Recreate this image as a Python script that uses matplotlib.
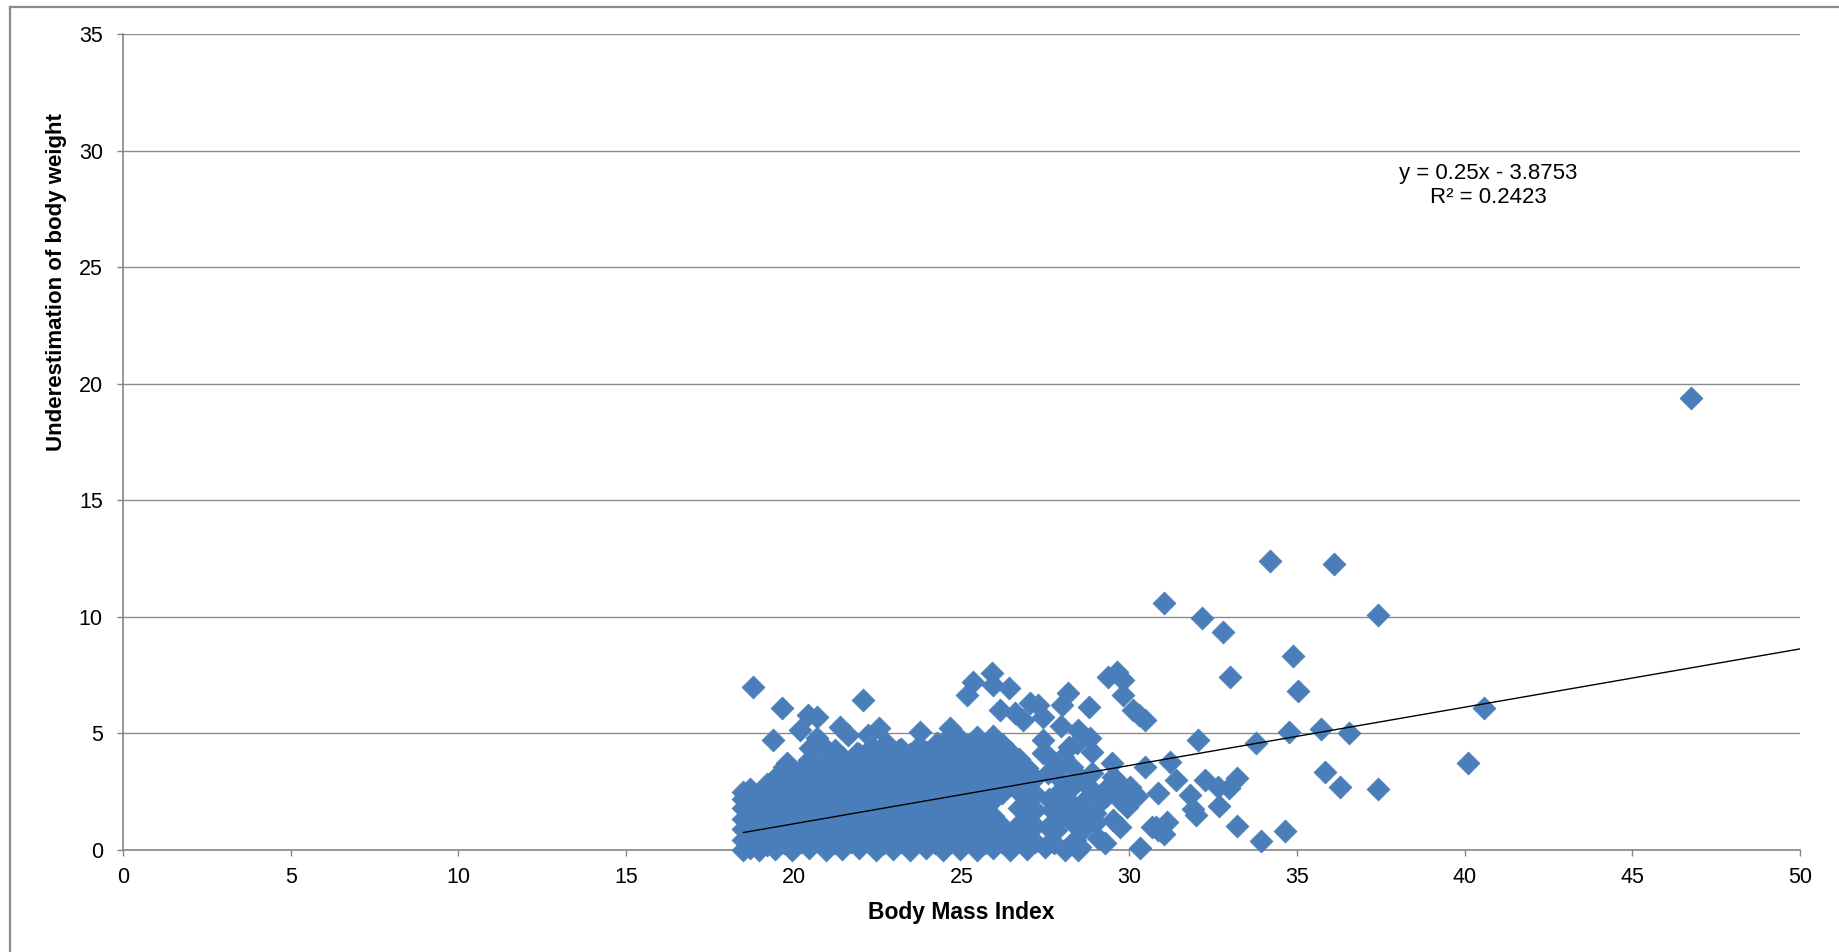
import numpy as np
import matplotlib.pyplot as plt
from matplotlib.lines import Line2D

plt.rcParams['font.family'] = ['Liberation Sans', 'DejaVu Sans']

# Datos: BMI (x) y subestimacion del peso (y).
# Nucleo denso (18.5 - 27.5), por columnas de BMI.
core_bmi = [18.5, 18.7, 18.95, 19.2, 19.45, 19.7, 19.95, 20.2, 20.45, 20.7,
            20.95, 21.2, 21.45, 21.7, 21.95, 22.2, 22.45, 22.7, 22.95, 23.2,
            23.45, 23.7, 23.95, 24.2, 24.45, 24.7, 24.95, 25.2, 25.45, 25.7,
            25.95, 26.2, 26.45, 26.7, 26.95, 27.2]
core_under = [
    [0.02, 0.45, 0.9, 1.35, 1.8, 2.2, 2.5],
    [0.1, 0.75, 1.5, 2.1, 2.6],
    [0.0, 0.4, 1.1, 1.8, 2.4],
    [0.2, 0.9, 1.5, 2.2, 2.85],
    [0.05, 0.6, 1.3, 1.9, 2.6, 3.1],
    [0.3, 0.95, 1.6, 2.3, 2.9, 3.55],
    [0.0, 0.65, 1.25, 1.95, 2.6, 3.3],
    [0.35, 1.0, 1.7, 2.35, 3.0, 3.45],
    [0.1, 0.7, 1.35, 2.0, 2.7, 3.35, 3.85],
    [0.4, 1.05, 1.75, 2.4, 3.05, 3.7],
    [0.0, 0.7, 1.4, 2.05, 2.75, 3.4, 3.95],
    [0.3, 1.0, 1.65, 2.35, 3.05, 3.75],
    [0.05, 0.65, 1.35, 2.0, 2.7, 3.35, 4.0],
    [0.35, 1.0, 1.7, 2.4, 3.1, 3.8],
    [0.1, 0.7, 1.4, 2.05, 2.75, 3.45, 4.1],
    [0.4, 1.05, 1.75, 2.4, 3.1, 3.75],
    [0.0, 0.65, 1.35, 2.05, 2.7, 3.4, 4.1],
    [0.3, 1.0, 1.7, 2.35, 3.05, 3.75, 4.3],
    [0.05, 0.7, 1.4, 2.1, 2.8, 3.45, 4.1],
    [0.35, 1.05, 1.75, 2.45, 3.1, 3.8, 4.35],
    [0.0, 0.7, 1.35, 2.05, 2.75, 3.45, 4.1],
    [0.4, 1.05, 1.7, 2.4, 3.1, 3.8, 4.4],
    [0.1, 0.7, 1.4, 2.1, 2.8, 3.5, 4.2],
    [0.3, 1.0, 1.7, 2.4, 3.1, 3.75, 4.3],
    [0.0, 0.65, 1.35, 2.05, 2.75, 3.4, 4.1, 4.6],
    [0.35, 1.05, 1.75, 2.4, 3.1, 3.8, 4.45],
    [0.05, 0.7, 1.4, 2.1, 2.8, 3.5, 4.2, 4.75],
    [0.4, 1.05, 1.75, 2.45, 3.15, 3.85, 4.5],
    [0.0, 0.7, 1.4, 2.05, 2.75, 3.45, 4.15, 4.85],
    [0.3, 1.0, 1.7, 2.4, 3.1, 3.8, 4.5],
    [0.1, 0.75, 1.45, 2.15, 2.85, 3.55, 4.2, 4.9],
    [0.35, 1.05, 2.45, 3.15, 3.85, 4.55],
    [0.0, 0.7, 2.8, 3.5, 4.2],
    [0.4, 1.1, 1.8, 2.5, 3.2, 3.9],
    [0.05, 0.75, 1.45, 2.15, 2.85, 3.5],
    [0.35, 1.05, 1.7, 2.4, 3.1],
]

# Puntos sueltos en el borde superior del nucleo.
edge_bmi = [18.79, 19.64, 19.39, 20.18, 20.43, 20.68, 20.68, 20.48, 21.38, 21.63,
            22.07, 21.87, 22.22, 22.55, 22.32, 22.74, 23.14, 23.76, 23.76, 24.66,
            24.26, 19.79, 20.78, 21.23, 25.16, 25.35, 25.9, 25.93, 26.43, 26.15,
            26.6, 26.84, 27.04, 27.29, 27.44]
edge_under = [7.0, 6.08, 4.72, 5.15, 5.79, 5.72, 4.79, 4.36, 5.29, 4.93,
              6.43, 4.15, 4.93, 5.22, 4.43, 4.58, 4.29, 5.08, 4.43, 5.22,
              4.58, 3.72, 4.58, 4.29, 6.65, 7.22, 7.58, 7.08, 6.96, 6.0,
              5.86, 5.58, 6.29, 6.2, 5.72]

# Zona 27.5 - 34, mas dispersa.
mid_bmi = [28.19, 27.99, 28.81, 29.38, 29.63, 29.83, 29.83, 30.12, 30.47, 30.3,
           27.98, 28.48, 28.43, 28.83, 28.88, 28.04, 27.43, 27.43, 29.48, 29.53,
           30.47, 31.22, 31.41, 32.06, 32.26, 32.66, 32.99, 33.2, 31.81, 30.87,
           32.0, 31.91, 32.68, 31.12, 30.8, 30.87, 31.05, 30.32, 29.28, 29.08,
           30.02, 30.22, 29.62, 29.92, 29.53, 29.72, 29.18, 28.88, 28.58, 28.98,
           28.68, 28.38, 28.48, 27.83, 28.18, 27.88, 27.58, 28.28, 27.98, 27.58,
           27.48, 28.08, 29.98, 33.2, 33.93, 34.65, 30.67, 28.53, 27.7, 27.6,
           28.2, 27.9, 28.3, 27.75, 28.9, 28.6, 28.0, 29.3,
           29.3, 29.0, 29.7, 28.6, 28.3, 27.9, 27.6, 28.2]
mid_under = [6.72, 6.22, 6.15, 7.44, 7.65, 7.29, 6.65, 6.0, 5.58, 5.8,
             5.3, 5.15, 4.58, 4.79, 4.22, 4.0, 4.15, 4.72, 3.72, 3.15,
             3.58, 3.79, 2.99, 4.72, 3.0, 2.72, 2.67, 3.07, 2.36, 2.43,
             1.5, 1.78, 1.9, 1.22, 0.98, 0.86, 0.7, 0.07, 0.29, 0.5,
             2.72, 2.3, 3.0, 1.86, 1.29, 1.0, 2.15, 2.58, 3.0, 1.6,
             1.0, 0.43, 0.0, 0.86, 1.58, 2.43, 3.29, 3.58, 3.0, 1.0,
             0.15, 0.0, 2.46, 1.03, 0.4, 0.83, 1.0, 0.14, 1.7, 2.2,
             2.1, 1.3, 2.7, 0.3, 3.3, 2.0, 1.9, 2.6,
             2.3, 1.2, 2.2, 1.6, 1.2, 3.6, 4.0, 4.4]

# Valores extremos.
out_bmi = [31.04, 32.18, 32.8, 34.2, 36.1, 37.41, 34.88, 33.01, 35.04, 40.59,
           33.77, 34.75, 35.71, 36.55, 35.85, 36.29, 37.41, 40.11, 46.74]
out_under = [10.58, 9.97, 9.37, 12.4, 12.25, 10.07, 8.32, 7.44, 6.82, 6.08,
             4.59, 5.05, 5.18, 5.02, 3.35, 2.7, 2.6, 3.72, 19.4]

# Linea de tendencia mostrada en el grafico.
slope = 0.25
intercept = -3.8753
r2 = 0.2423

bmi = np.concatenate([np.repeat(core_bmi, [len(c) for c in core_under]),
                      edge_bmi, mid_bmi, out_bmi])
under = np.concatenate([np.concatenate(core_under), edge_under, mid_under, out_under])

fig = plt.figure(figsize=(18.4, 9.52), dpi=100)
ax = fig.add_axes([123 / 1840, 102 / 952, 1677 / 1840, 816 / 952])

# Borde del area del grafico (estilo Excel).
fig.add_artist(Line2D([10 / 1840, 10 / 1840], [0, 1 - 7 / 952], transform=fig.transFigure,
                      color='#8a8a8a', lw=1.6))
fig.add_artist(Line2D([10 / 1840, 1], [1 - 7 / 952, 1 - 7 / 952], transform=fig.transFigure,
                      color='#8a8a8a', lw=1.6))

blue = '#4a7ebb'
ax.scatter(bmi, under, marker='D', s=135, color=blue, edgecolor=blue, linewidth=0.6,
           zorder=3, clip_on=False)

xl = np.array([bmi.min(), 50])
ax.plot(xl, slope * xl + intercept, color='black', lw=1.0, zorder=4)

ax.text(40.7, 28.5, 'y = %.2fx - %.4f\nR² = %.4f' % (slope, -intercept, r2),
        ha='center', va='center', fontsize=16, linespacing=1.2, multialignment='center')

ax.set_xlim(0, 50)
ax.set_ylim(0, 35)
ax.set_xticks(np.arange(0, 51, 5))
ax.set_yticks(np.arange(0, 36, 5))
ax.yaxis.grid(True, color='#8c8c8c', lw=1.0)
ax.set_axisbelow(True)
for s in ['top', 'right']:
    ax.spines[s].set_visible(False)
for s in ['left', 'bottom']:
    ax.spines[s].set_color('#868686')
    ax.spines[s].set_linewidth(1.2)
ax.tick_params(axis='both', colors='#868686', labelcolor='black', labelsize=15.5,
               length=4.5, width=1.0, direction='out')
ax.tick_params(axis='x', pad=8)
ax.tick_params(axis='y', pad=10)

ax.set_xlabel('Body Mass Index', fontsize=16.5, fontweight='bold')
ax.xaxis.set_label_coords(0.5, -0.062)
ax.set_ylabel('Underestimation of body weight', fontsize=16, fontweight='bold')
ax.yaxis.set_label_coords(-0.0334, 0.696)

plt.savefig('out.png', dpi=100)
